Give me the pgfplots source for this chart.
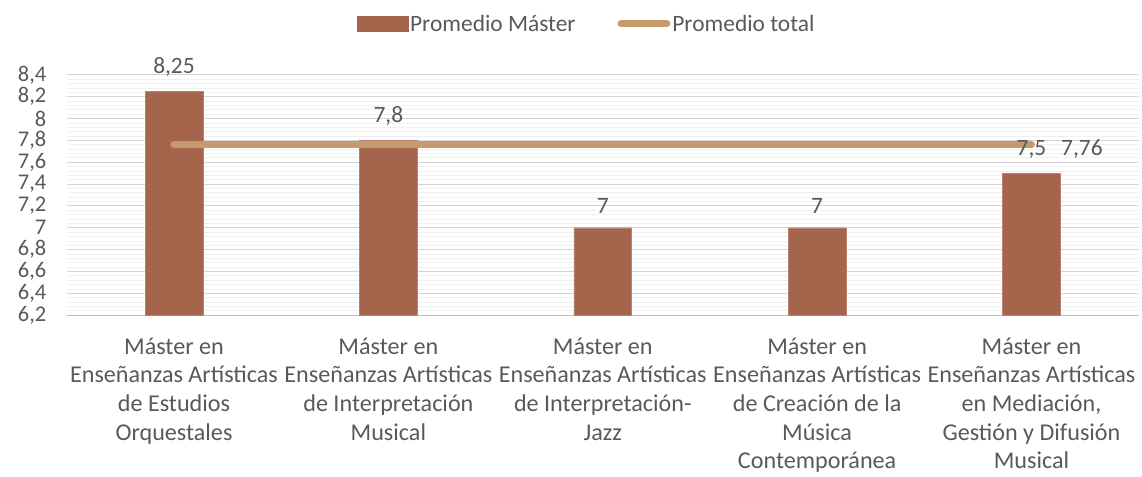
\documentclass[border=0pt]{standalone}
\usepackage{pgfplots}
\pgfplotsset{compat=1.18}
\usepackage{fontspec}
\setmainfont{Carlito}
\definecolor{barc}{RGB}{165,100,76}
\definecolor{linec}{RGB}{198,154,110}
\definecolor{txt}{RGB}{89,89,89}
\begin{document}
\begin{tikzpicture}
\begin{axis}[
  scale only axis, width=1075pt, height=241pt,
  xmin=-0.5, xmax=4.5, ymin=6.2, ymax=8.4,
  ytick={6.2,6.4,6.6,6.8,7,7.2,7.4,7.6,7.8,8,8.2,8.4},
  minor y tick num=4,
  ymajorgrids, yminorgrids,
  major grid style={draw=black!17, line width=1pt},
  minor grid style={draw=black!6, line width=0.6pt},
  axis x line*=bottom, axis y line*=left,
  y axis line style={draw=none},
  x axis line style={draw=black!25, line width=1pt, -},
  ytick style={draw=none}, minor y tick style={draw=none},
  xtick={0,1,2,3,4},
  xtick style={draw=none},
  extra x ticks={-0.5,0.5,1.5,2.5,3.5,4.5},
  extra x tick labels={},
  extra x tick style={tick style={draw=black!25, line width=1pt}, major tick length=7pt, tick align=outside},
  xticklabels={
    {Máster en\\Enseñanzas Artísticas\\de Estudios\\Orquestales},
    {Máster en\\Enseñanzas Artísticas\\de Interpretación\\Musical},
    {Máster en\\Enseñanzas Artísticas\\de Interpretación-\\Jazz},
    {Máster en\\Enseñanzas Artísticas\\de Creación de la\\Música\\Contemporánea},
    {Máster en\\Enseñanzas Artísticas\\en Mediación,\\Gestión y Difusión\\Musical}},
  xticklabel style={align=center, font=\fontsize{24.2}{28.8}\selectfont, text=txt, yshift=-19pt},
  yticklabel style={font=\fontsize{22.5}{23}\selectfont, text=txt, xshift=-17pt, inner ysep=0pt},
  /pgf/number format/use comma,
  /pgf/number format/assume math mode=true,
  legend columns=2,
  legend style={at={(0.485,1)}, anchor=south, yshift=38pt, draw=none, fill=none,
    font=\fontsize{23.5}{24}\selectfont, text=txt,
    /tikz/every even column/.append style={column sep=40pt}},
  clip=false,
]
\addplot[ybar, bar width=58pt, fill=barc, draw=barc!80!white,
  nodes near coords,
  every node near coord/.append style={font=\fontsize{23.5}{24}\selectfont, text=txt, yshift=11pt, /pgf/number format/use comma},
  legend image code/.code={\fill[barc] (0pt,-7pt) rectangle (51pt,8pt);}]
  coordinates {(0,8.25) (1,7.8) (2,7) (3,7) (4,7.5)};
\addlegendentry{Promedio Máster}
\addplot[linec, line width=7pt, line cap=round, mark=none,
  legend image code/.code={\draw[linec, line width=7pt, line cap=round] (3pt,0pt) -- (49pt,0pt);}]
  coordinates {(0,7.76) (1,7.76) (2,7.76) (3,7.76) (4,7.76)}
  node[pos=1, anchor=west, xshift=23pt, yshift=-4pt, font=\fontsize{23.5}{24}\selectfont, text=txt] {7,76};
\addlegendentry{Promedio total}
\end{axis}
\path ([xshift=-67pt,yshift=-159pt]current axis.south west) rectangle ([yshift=75pt]current axis.north east);
\end{tikzpicture}
\end{document}
